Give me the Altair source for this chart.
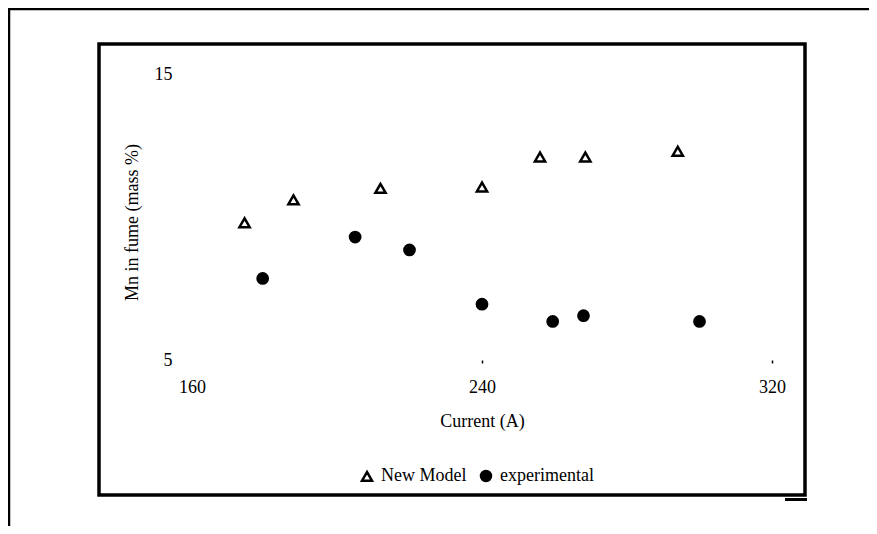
import altair as alt
import pandas as pd

# ---- data ----
model_current = [174.5, 188, 212, 240, 256, 268.5, 294]
model_mn = [9.8, 10.6, 11.0, 11.05, 12.1, 12.1, 12.3]
exp_current = [179.5, 205, 220, 240, 259.5, 268, 300]
exp_mn = [7.85, 9.3, 8.85, 6.95, 6.35, 6.55, 6.35]
series_names = ["New Model", "experimental"]
x_ticks = [160, 240, 320]
y_ticks = [5, 15]

df = pd.DataFrame({
    "current": model_current + exp_current,
    "mn": model_mn + exp_mn,
    "series": [series_names[0]] * len(model_current) + [series_names[1]] * len(exp_current),
})

FONT = "Liberation Serif"
FS = 18

legend = alt.Legend(
    title=None, orient="none", legendX=166, legendY=393, direction="horizontal",
    labelFont=FONT, labelFontSize=FS, labelColor="black",
    symbolSize=100, symbolStrokeWidth=2.5, symbolStrokeColor="black",
    labelOffset=5, columnPadding=9, padding=0,
)

points = alt.Chart(df).mark_point(
    filled=True, strokeWidth=2.5, size=105, opacity=1, clip=False
).encode(
    x=alt.X("current:Q",
            scale=alt.Scale(domain=[160, 320], nice=False, zero=False),
            axis=alt.Axis(values=x_ticks, title="Current (A)", grid=False, domain=False,
                          tickSize=3, tickWidth=1.5, tickColor="black",
                          tickOpacity=alt.condition("datum.value > 160", alt.value(1), alt.value(0)),
                          labelPadding=24, labelBaseline="middle", labelFlush=False,
                          titleX=290, titleY=61, titleBaseline="middle")),
    y=alt.Y("mn:Q",
            scale=alt.Scale(domain=[5, 15], nice=False, zero=False),
            axis=alt.Axis(values=y_ticks, title="Mn in fume (mass %)", grid=False, domain=False,
                          ticks=False, labelPadding=20, labelFlush=False,
                          titleX=-60, titleY=148, titleAngle=270, titleAlign="center",
                          titleBaseline="middle")),
    shape=alt.Shape("series:N",
                    scale=alt.Scale(domain=series_names, range=["triangle-up", "circle"]),
                    legend=legend),
    fill=alt.Fill("series:N",
                  scale=alt.Scale(domain=series_names, range=["white", "black"]),
                  legend=legend),
    stroke=alt.Stroke("series:N",
                      scale=alt.Scale(domain=series_names, range=["black", "black"]),
                      legend=legend),
)

one = alt.Data(values=[{"k": 1}])

outer_top = alt.Chart(one).mark_rule(color="black", strokeWidth=2.5, clip=False).encode(
    x=alt.value(-184), x2=alt.value(677), y=alt.value(-65))
outer_left = alt.Chart(one).mark_rule(color="black", strokeWidth=2.5, clip=False).encode(
    x=alt.value(-183), y=alt.value(-66), y2=alt.value(452))
inner = alt.Chart(one).mark_rect(fillOpacity=0, stroke="black", strokeWidth=3.5, clip=False).encode(
    x=alt.value(-93), x2=alt.value(613), y=alt.value(-30), y2=alt.value(421))
extra = alt.Chart(one).mark_rule(color="black", strokeWidth=3, clip=False).encode(
    x=alt.value(593), x2=alt.value(615), y=alt.value(425.5))

chart = alt.layer(outer_top, outer_left, inner, extra, points).properties(
    width=580, height=286,
    padding={"left": 184, "top": 66, "right": 97, "bottom": 166},
    autosize=alt.AutoSizeParams(type="none"),
    background="white",
).configure_view(strokeWidth=0).configure_axis(
    labelFont=FONT, labelFontSize=FS, labelColor="black",
    titleFont=FONT, titleFontSize=FS, titleColor="black", titleFontWeight="normal",
)

chart.save("out.html", embed_options={"renderer": "svg", "actions": False})
